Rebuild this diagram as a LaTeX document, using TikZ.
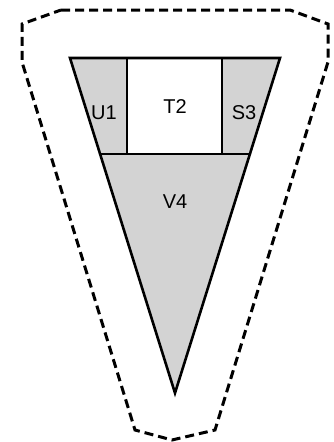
\documentclass[tikz,border=0pt]{standalone}
\usepackage{fontspec}
\setmainfont{Liberation Sans}
\usepackage{tikz}
\usetikzlibrary{calc}
\definecolor{PartGray}{RGB}{211,211,211}
\tikzset{
  partfill/.style={fill=PartGray,draw=none},
  partedge/.style={draw=black,line width=2.6pt,line join=miter},
  hullline/.style={draw=black,line width=3pt,dash pattern=on 9pt off 5pt,line join=miter},
  partlabel/.style={font=\fontsize{20}{22}\selectfont,inner sep=0pt}
}
\begin{document}
\begin{tikzpicture}[x=1pt,y=-1pt]
\useasboundingbox (0,0) rectangle (333,442);
% corners of the split triangle
\coordinate (tl) at (70,58);
\coordinate (tr) at (280,58);
\coordinate (apex) at (175,393);
\coordinate (ua) at (127,58);
\coordinate (sa) at (222,58);
\coordinate (ub) at (127,154);
\coordinate (sb) at (222,154);
\coordinate (vl) at (100,154);
\coordinate (vr) at (251,154);
% shaded parts
\fill[partfill] (tl) -- (ua) -- (ub) -- (vl) -- cycle;
\fill[partfill] (sa) -- (tr) -- (vr) -- (sb) -- cycle;
\fill[partfill] (vl) -- (vr) -- (apex) -- cycle;
% edges
\draw[partedge] (tl) -- (tr) -- (apex) -- cycle;
\draw[partedge] (ua) -- (ub);
\draw[partedge] (sa) -- (sb);
\draw[partedge] (vl) -- (vr);
% labels
\node[partlabel] (u1) at (104,113) {U1};
\node[partlabel] (t2) at (175,107) {T2};
\node[partlabel] (s3) at (244,113) {S3};
\node[partlabel] (v4) at (175,202) {V4};
% dashed hull
\draw[hullline] (61,10) -- (290,10) -- (328,24) -- (328,62) -- (215,430)
  -- (172,440) -- (135,430) -- (22,62) -- (22,24) -- cycle;
\end{tikzpicture}
\end{document}
